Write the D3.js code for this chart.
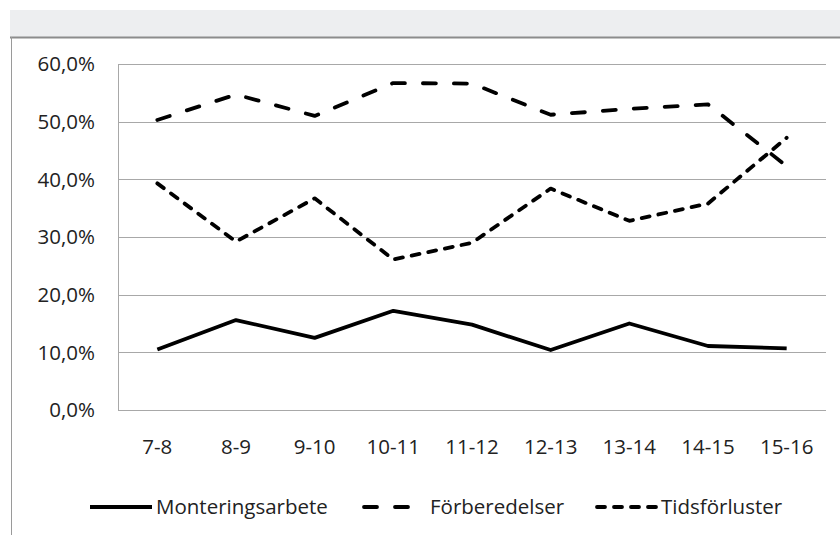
<!DOCTYPE html>
<head>
  <meta charset="UTF-8">
  <title>Tidsfördelning</title>
  <style>
    body { margin: 0; background: #fff; }
    text { font-family: "Open Sans", sans-serif; fill: #222; }
  </style>
</head>
<body>
  <script src="https://d3js.org/d3.v7.min.js" charset="utf-8"></script>
  <script>
    // timintervall
    let categories = ["7-8", "8-9", "9-10", "10-11", "11-12", "12-13", "13-14", "14-15", "15-16"];
    let montering = [10.5, 15.6, 12.5, 17.2, 14.8, 10.4, 15.0, 11.1, 10.7];
    let forberedelser = [50.3, 54.7, 51.0, 56.7, 56.6, 51.2, 52.2, 53.0, 42.3];
    let tidsforluster = [39.3, 29.2, 36.7, 26.1, 29.0, 38.4, 32.8, 35.8, 47.2];
    let seriesNames = ["Monteringsarbete", "Förberedelser", "Tidsförluster"];
    let yTicks = [0, 10, 20, 30, 40, 50, 60];

    let width = 840;
    let height = 535;
    let fontSize = '20.5px';

    let svg = d3.select('body')
      .append('svg')
      .attr('width', width)
      .attr('height', height);

    // ram och grått fält överst
    svg.append('rect')
      .attr('x', 10).attr('y', 10)
      .attr('width', width - 10).attr('height', 27)
      .attr('fill', '#edeef0');
    svg.append('line')
      .attr('x1', 10).attr('x2', width)
      .attr('y1', 37.5).attr('y2', 37.5)
      .attr('stroke', '#8c8c8c').attr('stroke-width', 2);
    svg.append('line')
      .attr('x1', 11.5).attr('x2', 11.5)
      .attr('y1', 37).attr('y2', height)
      .attr('stroke', '#9a9a9a');

    let plot = { left: 118, right: 826, top: 64, bottom: 410 };

    let x = d3.scaleBand()
      .domain(categories)
      .range([plot.left, plot.right]);

    let y = d3.scaleLinear()
      .domain([0, 60])
      .range([plot.bottom, plot.top]);

    // rutnät
    svg.append('g')
      .selectAll('line')
      .data(yTicks)
      .enter()
      .append('line')
      .attr('x1', plot.left)
      .attr('x2', plot.right)
      .attr('y1', d => Math.round(y(d)) + 0.5)
      .attr('y2', d => Math.round(y(d)) + 0.5)
      .attr('stroke', '#a8a8a8');

    svg.append('line')
      .attr('x1', plot.left + 0.5).attr('x2', plot.left + 0.5)
      .attr('y1', plot.top).attr('y2', plot.bottom + 1)
      .attr('stroke', '#a8a8a8');

    // y-etiketter
    svg.append('g')
      .selectAll('text')
      .data(yTicks)
      .enter()
      .append('text')
      .attr('x', 95)
      .attr('y', d => y(d))
      .attr('dy', '0.35em')
      .attr('text-anchor', 'end')
      .attr('font-size', fontSize)
      .text(d => d.toFixed(1).replace('.', ',') + '%');

    // x-etiketter
    svg.append('g')
      .selectAll('text')
      .data(categories)
      .enter()
      .append('text')
      .attr('x', d => x(d) + x.bandwidth() / 2)
      .attr('y', 454)
      .attr('text-anchor', 'middle')
      .attr('font-size', fontSize)
      .text(d => d);

    let styles = [
      { dash: null, cap: 'butt' },
      { dash: '13,18', cap: 'round' },
      { dash: '8,9', cap: 'round' }
    ];
    let allSeries = [montering, forberedelser, tidsforluster];

    let line = d3.line()
      .x((d, i) => x(categories[i]) + x.bandwidth() / 2)
      .y(d => y(d));

    svg.append('g')
      .selectAll('path')
      .data(allSeries)
      .enter()
      .append('path')
      .attr('d', d => line(d))
      .attr('fill', 'none')
      .attr('stroke', '#000')
      .attr('stroke-width', 3.8)
      .attr('stroke-linejoin', 'round')
      .attr('stroke-linecap', (d, i) => styles[i].cap)
      .attr('stroke-dasharray', (d, i) => styles[i].dash);

    // förklaring
    let legendX = [90, 362, 595];
    let legendY = 507;
    let leg = svg.append('g')
      .selectAll('g')
      .data(seriesNames)
      .enter()
      .append('g')
      .attr('transform', (d, i) => 'translate(' + legendX[i] + ',' + legendY + ')');

    leg.append('line')
      .attr('x1', (d, i) => i === 0 ? 0 : 2)
      .attr('x2', 62)
      .attr('stroke', '#000')
      .attr('stroke-width', 3.8)
      .attr('stroke-linecap', (d, i) => styles[i].cap)
      .attr('stroke-dasharray', (d, i) => styles[i].dash);

    leg.append('text')
      .attr('x', (d, i) => i === 1 ? 68 : 66)
      .attr('y', 0)
      .attr('dy', '0.35em')
      .attr('font-size', fontSize)
      .text(d => d);
  </script>
</body>
</html>
